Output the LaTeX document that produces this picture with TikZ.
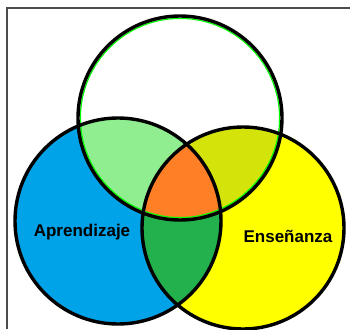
\documentclass[tikz,border=0pt]{standalone}
\usepackage{fontspec}
\setmainfont{Liberation Sans}
\usepackage{tikz}
\usetikzlibrary{positioning}

\definecolor{skyblue}{RGB}{0,162,232}
\definecolor{lemon}{RGB}{255,255,0}
\definecolor{mint}{RGB}{144,238,144}
\definecolor{lime}{RGB}{212,228,10}
\definecolor{tangerine}{RGB}{255,127,39}
\definecolor{leaf}{RGB}{34,177,76}

\begin{document}
\begin{tikzpicture}[
    x=1pt, y=-1pt,
    ring/.style={draw=black, line width=3.4pt},
    tag/.style={font=\fontsize{17}{19}\selectfont\bfseries, text=black}
]
    \useasboundingbox (0,0) rectangle (350,329);
    \draw [black!70, line width=1.2pt] (350,8) -- (7,8) -- (7,329);

    \coordinate (top) at (180,118);
    \coordinate (learn) at (118,221);
    \coordinate (teach) at (243,228);

    % base discs
    \fill [skyblue] (learn) circle (103pt);
    \fill [lemon] (teach) circle (101pt);
    \begin{scope}
        \clip (learn) circle (103pt);
        \fill [leaf] (teach) circle (101pt);
    \end{scope}
    \fill [white] (top) circle (102pt);

    % overlaps with the top disc
    \begin{scope}
        \clip (top) circle (102pt);
        \fill [mint] (learn) circle (103pt);
        \fill [lime] (teach) circle (101pt);
        \clip (learn) circle (103pt);
        \fill [tangerine] (teach) circle (101pt);
    \end{scope}

    % outlines
    \draw [green, line width=1.2pt] (top) circle (99.6pt);
    \draw [ring] (top) circle (102pt);
    \draw [ring] (learn) circle (103pt);
    \draw [ring] (teach) circle (101pt);

    \node [tag] (aprend) at (82,232) {Aprendizaje};
    \node [tag] (ensen) at (288,236) {Enseñanza};
\end{tikzpicture}
\end{document}
